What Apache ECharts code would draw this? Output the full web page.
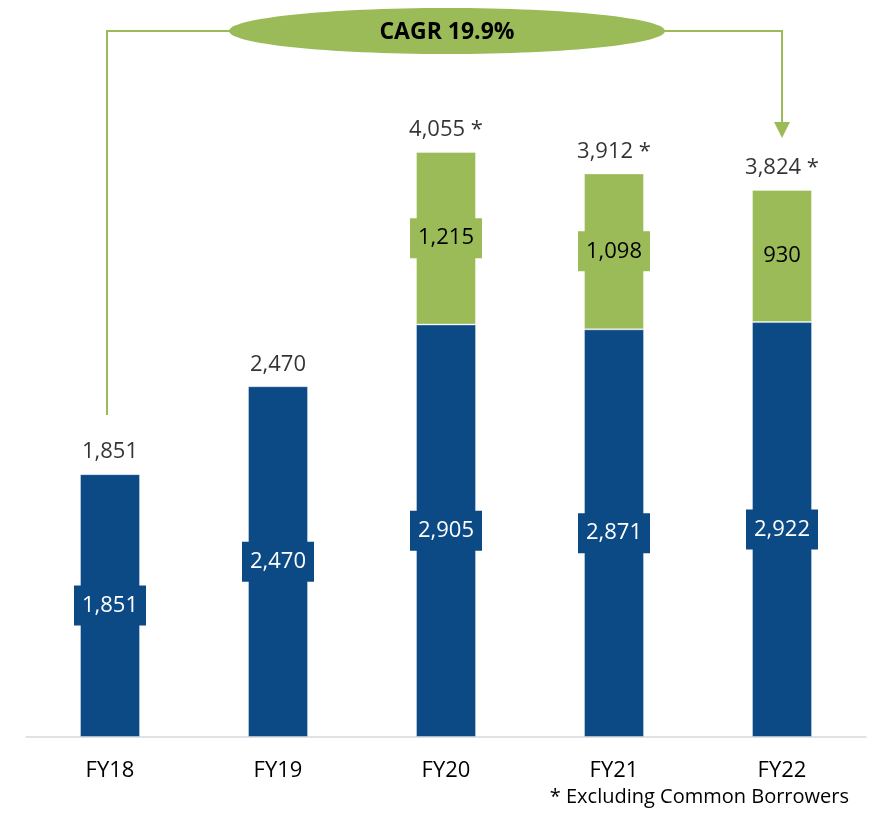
<!DOCTYPE html>
<html>
<head>
<meta charset="utf-8">
<script src="https://cdn.jsdelivr.net/npm/echarts@6/dist/echarts.min.js"></script>
<style>
  html, body { margin: 0; padding: 0; background: #ffffff; }
  #chart { width: 885px; height: 817px; }
</style>
</head>
<body>
<div id="chart"></div>
<script>
// Fiscal years on the category axis
var categories = ['FY18', 'FY19', 'FY20', 'FY21', 'FY22'];
// Lower (blue) segment of each bar
var baseValues = [1851, 2470, 2905, 2871, 2922];
// Upper (green) segment, only from FY20 on
var addedValues = [null, null, 1215, 1098, 930];
// Total shown above each bar (excluding common borrowers from FY20)
var totalLabels = ['1,851', '2,470', '4,055 *', '3,912 *', '3,824 *'];
var cagrText = 'CAGR 19.9%';
var footnote = '* Excluding Common Borrowers';

var BLUE = '#0c4a86';
var GREEN = '#9bbb59';
var FONT = '"Open Sans", "Noto Sans", sans-serif';

function fmt(v) {
  return Number(v).toLocaleString('en-US');
}

var stackTops = baseValues.map(function (v, i) {
  return v + (addedValues[i] || 0);
});

var chart = echarts.init(document.getElementById('chart'), null, { renderer: 'canvas' });

var option = {
  animation: false,
  backgroundColor: '#ffffff',
  grid: { left: 26, right: 19, top: 27, bottom: 80 },
  xAxis: {
    type: 'category',
    data: categories,
    axisLine: { show: true, lineStyle: { color: '#d9d9d9', width: 1.5 } },
    axisTick: { show: false },
    axisLabel: { color: '#000000', fontSize: 22, fontFamily: FONT, margin: 23 }
  },
  yAxis: {
    type: 'value',
    min: 0,
    max: 5000,
    show: false,
    splitLine: { show: false }
  },
  series: [
    {
      name: 'base',
      type: 'bar',
      stack: 'total',
      barWidth: 60,
      data: baseValues,
      itemStyle: { color: BLUE, borderColor: 'rgba(255,255,255,0.35)', borderWidth: 1 },
      label: {
        show: true,
        position: 'inside',
        formatter: function (p) { return fmt(p.value); },
        color: '#ffffff',
        fontSize: 22,
        fontFamily: FONT,
        backgroundColor: BLUE,
        padding: [10, 8, 8, 8]
      }
    },
    {
      name: 'added',
      type: 'bar',
      stack: 'total',
      barWidth: 60,
      data: addedValues,
      itemStyle: { color: GREEN, borderColor: 'rgba(255,255,255,0.35)', borderWidth: 1 },
      label: {
        show: true,
        position: 'inside',
        formatter: function (p) { return fmt(p.value); },
        color: '#000000',
        fontSize: 22,
        fontFamily: FONT,
        backgroundColor: GREEN,
        padding: [10, 8, 8, 8]
      }
    },
    {
      name: 'totals',
      type: 'scatter',
      symbolSize: 0,
      data: stackTops,
      silent: true,
      label: {
        show: true,
        position: 'top',
        distance: 11,
        formatter: function (p) { return totalLabels[p.dataIndex]; },
        color: '#000000',
        fontSize: 22,
        fontFamily: FONT
      }
    }
  ]
};

chart.setOption(option);

// CAGR connector: runs from above the first bar to an arrow over the last one
var xFirst = chart.convertToPixel({ xAxisIndex: 0 }, categories[0]) - 3;
var xLast = chart.convertToPixel({ xAxisIndex: 0 }, categories[categories.length - 1]);
var lineY = 31;
var ellCx = 447, ellRx = 218, ellRy = 23;

chart.setOption({
  graphic: [
    {
      type: 'polyline',
      shape: { points: [[ellCx - ellRx + 2, lineY], [xFirst, lineY], [xFirst, 415]] },
      style: { stroke: GREEN, lineWidth: 2, fill: null }
    },
    {
      type: 'polyline',
      shape: { points: [[ellCx + ellRx - 2, lineY], [xLast, lineY], [xLast, 124]] },
      style: { stroke: GREEN, lineWidth: 2, fill: null }
    },
    {
      type: 'polygon',
      shape: { points: [[xLast - 8, 122], [xLast + 8, 122], [xLast, 138]] },
      style: { fill: GREEN }
    },
    {
      type: 'ellipse',
      shape: { cx: ellCx, cy: lineY, rx: ellRx, ry: ellRy },
      style: { fill: GREEN }
    },
    {
      type: 'text',
      x: ellCx,
      y: lineY + 1,
      style: {
        text: cagrText,
        fill: '#000000',
        font: 'bold 23px ' + FONT,
        align: 'center',
        verticalAlign: 'middle'
      }
    },
    {
      type: 'text',
      right: 36,
      top: 787,
      style: {
        text: footnote,
        fill: '#000000',
        font: '20px ' + FONT
      }
    }
  ]
});
</script>
</body>
</html>
